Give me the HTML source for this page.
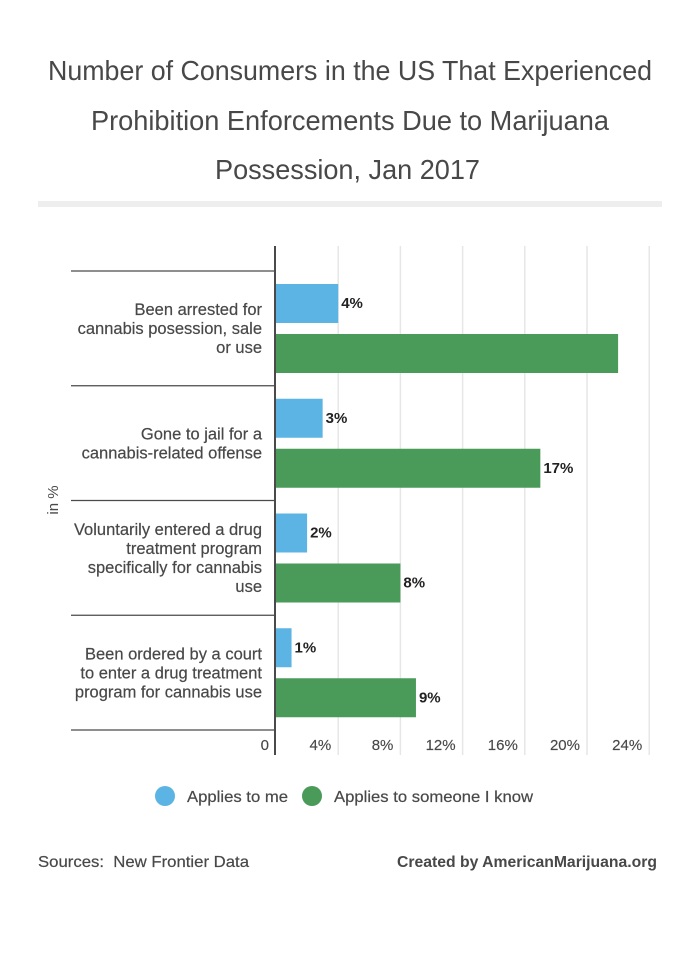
<!DOCTYPE html>
<html>
<head>
<meta charset="utf-8">
<title>Prohibition Enforcements Chart</title>
<style>
html,body{margin:0;padding:0;background:#fff;}
svg{display:block;font-family:"Liberation Sans",sans-serif;}
</style>
</head>
<body>
<svg id="chart" width="700" height="975" viewBox="0 0 700 975" xmlns="http://www.w3.org/2000/svg">
  <g font-size="28" fill="#484848" text-anchor="middle">
    <text x="350" y="80" textLength="604" lengthAdjust="spacingAndGlyphs">Number of Consumers in the US That Experienced</text>
    <text x="350" y="130" textLength="518" lengthAdjust="spacingAndGlyphs">Prohibition Enforcements Due to Marijuana</text>
    <text x="347.500" y="179" textLength="265" lengthAdjust="spacingAndGlyphs">Possession, Jan 2017</text>
  </g>
  <rect x="38" y="201" width="624" height="6" fill="#eeeeee"/>
  <g id="grid"></g>
  <g id="separators"></g>
  <g id="bars"></g>
  <line x1="275" y1="246" x2="275" y2="755" stroke="#4a4a4a" stroke-width="2"/>
  <g id="cat-labels" font-size="16.5" fill="#484848" stroke="#484848" stroke-width="0.2" text-anchor="end"></g>
  <g id="value-labels" font-size="15" font-weight="bold" fill="#222"></g>
  <g id="tick-labels" font-size="15" fill="#484848" stroke="#484848" stroke-width="0.15" text-anchor="end"></g>
  <text transform="translate(58,500) rotate(-90)" font-size="15" fill="#484848" text-anchor="middle">in %</text>

  <g font-size="16" fill="#484848" stroke="#484848" stroke-width="0.2">
    <circle cx="165" cy="796" r="10" fill="#5cb4e4" stroke="none"/>
    <text x="187" y="802" textLength="101" lengthAdjust="spacingAndGlyphs">Applies to me</text>
    <circle cx="312" cy="796" r="10" fill="#4a9a5a" stroke="none"/>
    <text x="334" y="802" textLength="199" lengthAdjust="spacingAndGlyphs">Applies to someone I know</text>
  </g>
  <text x="38" y="867" font-size="16" fill="#484848" stroke="#484848" stroke-width="0.2" textLength="211" lengthAdjust="spacingAndGlyphs" xml:space="preserve">Sources:  New Frontier Data</text>
  <text x="397" y="867" font-size="16" font-weight="bold" fill="#484848" textLength="260" lengthAdjust="spacingAndGlyphs">Created by AmericanMarijuana.org</text>
</svg>
<script>
const categories = [
  ["Been arrested for", "cannabis posession, sale", "or use"],
  ["Gone to jail for a", "cannabis-related offense"],
  ["Voluntarily entered a drug", "treatment program", "specifically for cannabis", "use"],
  ["Been ordered by a court", "to enter a drug treatment", "program for cannabis use"]
];
const appliesToMe = [4, 3, 2, 1];
const appliesToSomeone = [22, 17, 8, 9];
const meLabels = ["4%", "3%", "2%", "1%"];
const someoneLabels = ["", "17%", "8%", "9%"];
const xTicks = [4, 8, 12, 16, 20, 24];
const xTickLabels = ["4%", "8%", "12%", "16%", "20%", "24%"];

const NS = "http://www.w3.org/2000/svg";
const xScale = v => 276 + v * 15.55;
const bandTop = i => 271 + i * 114.75;
function make(tag, parent, attrs, text) {
  const el = document.createElementNS(NS, tag);
  for (const k in attrs) el.setAttribute(k, attrs[k]);
  if (text !== undefined) el.textContent = text;
  parent.appendChild(el);
  return el;
}
const grid = document.getElementById("grid");
const seps = document.getElementById("separators");
const bars = document.getElementById("bars");
const catG = document.getElementById("cat-labels");
const valG = document.getElementById("value-labels");
const tickG = document.getElementById("tick-labels");

xTicks.forEach((t, i) => {
  const line = make("line", grid, {x1: xScale(t), x2: xScale(t), y1: 246, y2: 755, stroke: "#e6e6e6", "stroke-width": 1.5});
  
  
  const label = make("text", tickG, {x: xScale(t) - 7, y: 750}, xTickLabels[i]);
  
  
});
const zero = make("text", tickG, {x: 269, y: 750}, "0");



for (let i = 0; i <= categories.length; i++) {
  const sep = make("line", seps, {x1: 71, x2: 275, y1: bandTop(i), y2: bandTop(i), stroke: "#4a4a4a", "stroke-width": 1.3});
  
  
}

categories.forEach((lines, i) => {
  const top = bandTop(i);
  const mid = top + 57.5;
  const first = mid - (lines.length - 1) * 9.5 + 5.5;
  lines.forEach((ln, j) => {
    const t = make("text", catG, {x: 262, y: first + j * 19}, ln);
    
    
  });

  const b1 = make("rect", bars, {x: 276, y: top + 13, width: xScale(appliesToMe[i]) - 276, height: 39, fill: "#5cb4e4"});
  
  
  const b2 = make("rect", bars, {x: 276, y: top + 63, width: xScale(appliesToSomeone[i]) - 276, height: 39, fill: "#4a9a5a"});
  
  

  const v1 = make("text", valG, {x: xScale(appliesToMe[i]) + 3, y: top + 37}, meLabels[i]);
  
  
  if (someoneLabels[i]) {
    const v2 = make("text", valG, {x: xScale(appliesToSomeone[i]) + 3, y: top + 87}, someoneLabels[i]);
    
    
  }
});
</script>
</body>
</html>
